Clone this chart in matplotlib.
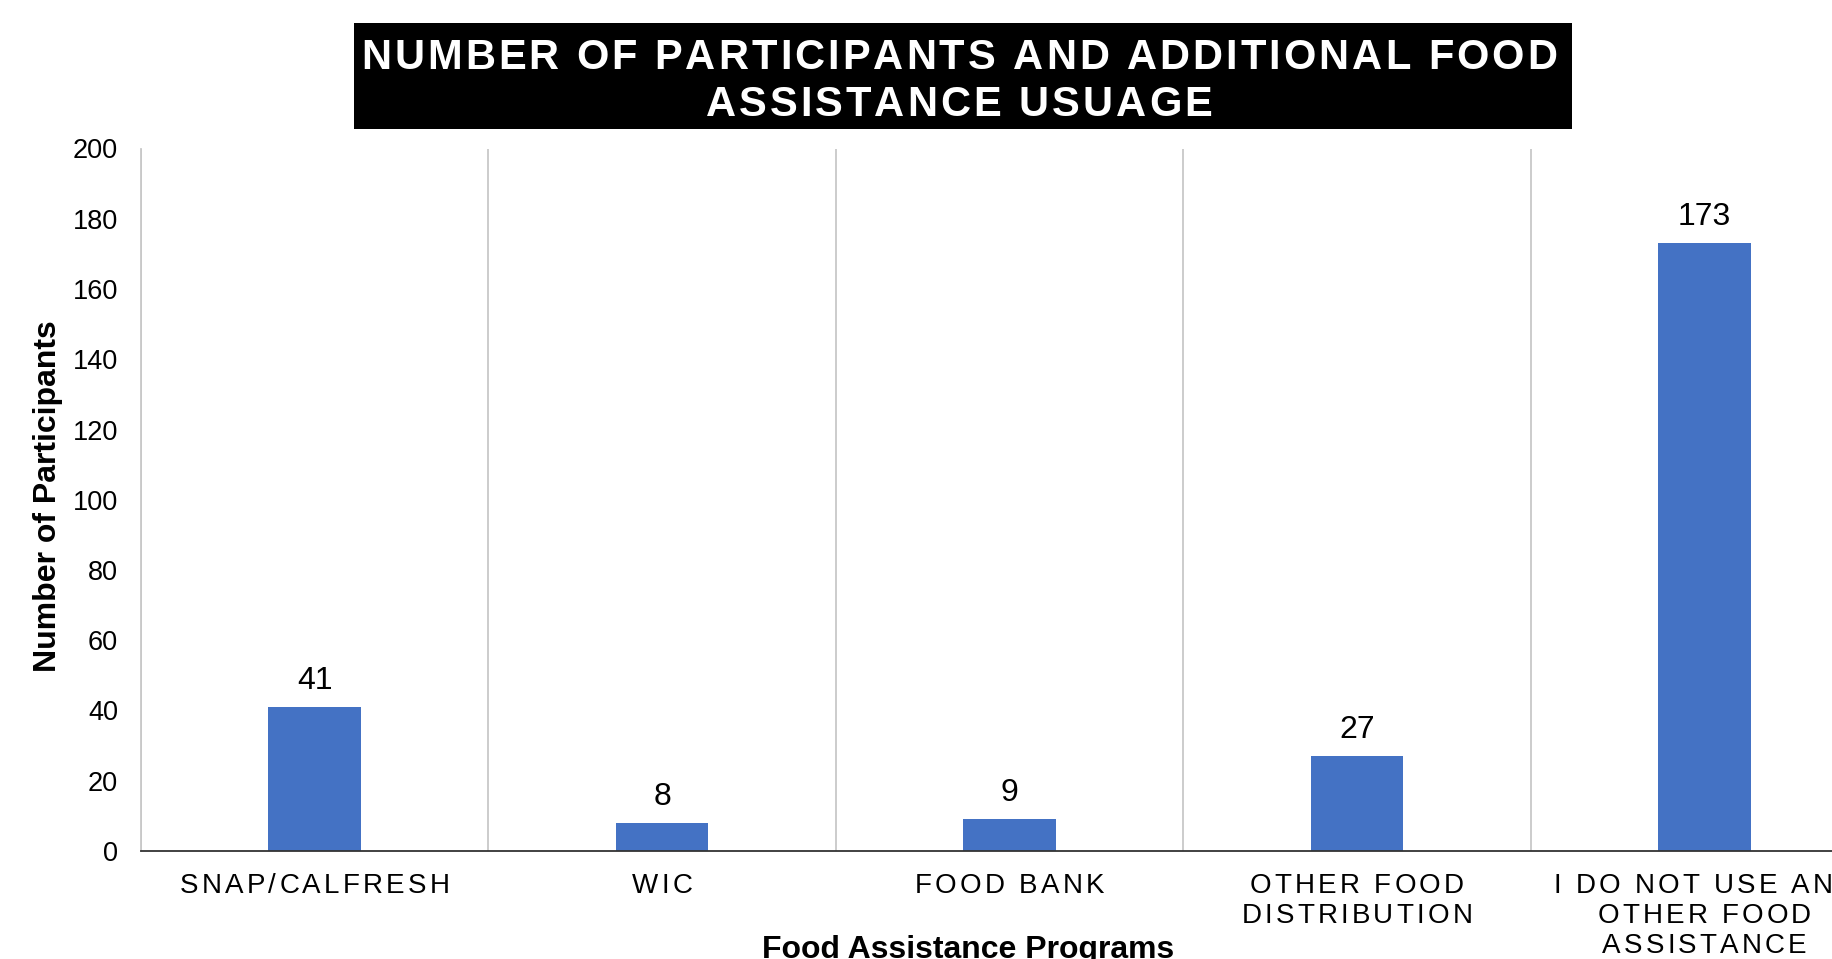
import matplotlib
matplotlib.use('Agg')
import matplotlib.pyplot as plt
from matplotlib import font_manager
from matplotlib.ft2font import FT2Font
from matplotlib.transforms import IdentityTransform
from matplotlib.patches import Rectangle

# данные
programs = ['SNAP/CALFRESH', 'WIC', 'FOOD BANK',
            'OTHER FOOD\nDISTRIBUTION',
            'I DO NOT USE ANY\nOTHER FOOD\nASSISTANCE']
participants = [41, 8, 9, 27, 173]
y_ticks = list(range(0, 201, 20))
title_lines = ['NUMBER OF PARTICIPANTS AND ADDITIONAL FOOD', 'ASSISTANCE USUAGE']

W, H, DPI = 1833, 959, 100
FONT = 'Liberation Sans'
plt.rcParams['font.family'] = [FONT, 'DejaVu Sans']


def advances(text, size, weight):
    # ширина каждого символа в пикселях
    path = font_manager.findfont(font_manager.FontProperties(family=FONT, weight=weight))
    font = FT2Font(path)
    font.set_size(size, DPI)
    return [font.load_char(ord(ch)).linearHoriAdvance / 65536 for ch in text]


def spaced_text(fig, text, xc, y, size, spacing, weight='normal', color='black'):
    # текст с разрядкой, координаты в пикселях
    adv = advances(text, size, weight)
    total = sum(adv) + spacing * (len(text) - 1)
    x = xc - total / 2
    for ch, a in zip(text, adv):
        if ch != ' ':
            fig.text(x + a / 2, y, ch, transform=IdentityTransform(),
                     ha='center', va='baseline', fontsize=size,
                     fontweight=weight, color=color)
        x += a + spacing


fig = plt.figure(figsize=(W / DPI, H / DPI), dpi=DPI)
ax = fig.add_axes([141 / W, 108 / H, 1737 / W, 702.5 / H])

x = range(len(programs))
ax.bar(x, participants, width=0.266, color='#4472C4', zorder=3)
for i, v in zip(x, participants):
    ax.annotate(str(v), (i, v), xytext=(0, 13), textcoords='offset points',
                ha='center', va='baseline', fontsize=23)

ax.set_xlim(-0.5, len(programs) - 0.5)
ax.set_ylim(0, 200)
ax.set_yticks(y_ticks)
ax.set_xticks([])
ax.set_xticks([i - 0.5 for i in range(len(programs) + 1)], minor=True)
ax.xaxis.grid(True, which='minor', color='#c8c8c8', linewidth=1.3, zorder=0)
ax.tick_params(which='both', length=0)
ax.tick_params(axis='y', pad=16.5, labelsize=19.5)
for s in ['top', 'right']:
    ax.spines[s].set_visible(False)
ax.spines['left'].set_color('#c8c8c8')
ax.spines['left'].set_linewidth(1.3)
ax.spines['bottom'].set_color('#333333')
ax.spines['bottom'].set_linewidth(1.3)
ax.spines['bottom'].set_zorder(4)

# подписи категорий с разрядкой
for i, label in enumerate(programs):
    xc = ax.transData.transform((i, 0))[0]
    for k, line in enumerate(label.split('\n')):
        spaced_text(fig, line, xc, 66 - 30 * k, 20, 3.2)

# подписи осей
fig.text(48, H - 496, 'Number of Participants', transform=IdentityTransform(),
         rotation=90, ha='center', va='center', fontsize=23, fontweight='bold')
fig.text(968, 1, 'Food Assistance Programs', transform=IdentityTransform(),
         ha='center', va='baseline', fontsize=23, fontweight='bold')

# заголовок в чёрной плашке
fig.add_artist(Rectangle((354, H - 129), 1218, 106, transform=IdentityTransform(),
                         facecolor='black', edgecolor='none'))
spaced_text(fig, title_lines[0], 959, H - 69, 30, 3.0, weight='bold', color='white')
spaced_text(fig, title_lines[1], 959, H - 116, 30, 3.0, weight='bold', color='white')

fig.savefig('out.png', dpi=DPI)
